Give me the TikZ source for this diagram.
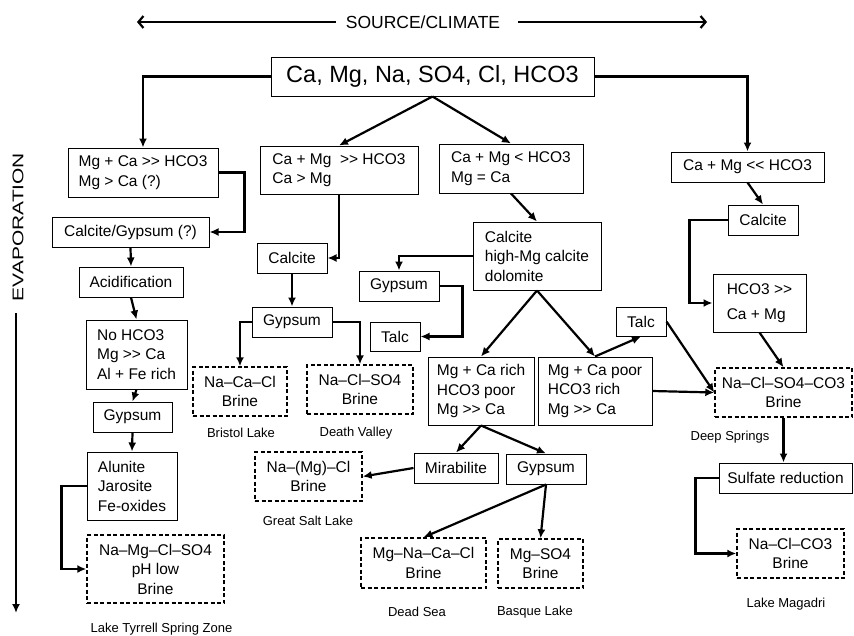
\documentclass[tikz,border=0pt]{standalone}
\usepackage{fontspec}
\setmainfont{Liberation Sans}
\newfontfamily\widefont[FakeStretch=1.35]{Liberation Sans}
\usetikzlibrary{arrows.meta}

\begin{document}
\begin{tikzpicture}
    [
      x=1pt, y=-1pt,
      every node/.style = {inner sep=4pt, font=\fontsize{15.5}{19.5}\selectfont},
      box/.style = {draw, line width=1pt, align=center},
      lbox/.style = {draw, line width=1pt, align=left},
      brine/.style = {draw, line width=1.4pt, dash pattern=on 4pt off 2.5pt, align=center},
      lbl/.style = {font=\fontsize{13}{15}\selectfont},
      wh/.style 2 args = {minimum width=#1pt, minimum height=#2pt},
      flow/.style = {line width=2.2pt, -{Latex[length=9pt,width=8pt]}},
      top arrow/.style = {line width=2.2pt, -{Straight Barb[length=5pt,width=12pt]}}
    ]
    \useasboundingbox (0,0) rectangle (854,635);

    % header and side arrow
    \node[font=\fontsize{17.5}{20}\selectfont, inner xsep=10pt] (source) at (423,22) {SOURCE/CLIMATE};
    \coordinate (srcL) at (137,22);
    \coordinate (srcR) at (707,22);
    \draw[top arrow] (source.west) -- (srcL);
    \draw[top arrow] ([xshift=8pt]source.east) -- (srcR);

    \node[rotate=90, font=\widefont\fontsize{15.5}{18}\selectfont] (evap) at (18,227) {EVAPORATION};
    \coordinate (evapTop) at (16,313);
    \coordinate (evapEnd) at (16,613);
    \draw[flow] (evapTop) -- (evapEnd);

    \node[box, wh={323}{39}, font=\fontsize{23.5}{26}\selectfont] (ions) at (432.5,76.5) {Ca, Mg, Na, SO4, Cl, HCO3};

    % left branch
    \node[lbox, wh={150}{49}] (mgca) at (143,172.5) {Mg + Ca >{}> HCO3\\Mg > Ca (?)};
    \node[box, wh={157}{30}] (calgyp) at (130.5,232) {Calcite/Gypsum (?)};
    \node[box, wh={104}{30}] (acid) at (131,282) {Acidification};
    \node[lbox, wh={101}{69}] (nohco) at (136.5,354.5) {No HCO3\\Mg >{}> Ca\\Al + Fe rich};
    \node[box, wh={79}{30}] (gypL) at (132.5,417) {Gypsum};
    \node[lbox, wh={90}{68}] (alun) at (132,486) {Alunite\\Jarosite\\Fe-oxides};
    \node[brine, wh={137}{68}] (tyrrell) at (155.5,569) {Na–Mg–Cl–SO4\\pH low\\Brine};
    \node[lbl] (tyrrellname) at (161.5,629) {Lake Tyrrell Spring Zone};

    % middle left branch
    \node[lbox, wh={158}{48}] (camgA) at (339,170) {Ca + Mg\ \ >{}> HCO3\\Ca > Mg};
    \node[box, wh={70}{30}] (calcM) at (292,258) {Calcite};
    \node[box, wh={80}{30}] (gypM) at (292,322) {Gypsum};
    \node[brine, wh={94}{49}] (bristol) at (240,391.5) {Na–Ca–Cl\\Brine};
    \node[lbl] (bristolname) at (241,433) {Bristol Lake};
    \node[brine, wh={106}{49}] (death) at (360,389.5) {Na–Cl–SO4\\Brine};
    \node[lbl] (deathname) at (356,433) {Death Valley};

    % middle right branch
    \node[lbox, wh={144}{49}] (camgB) at (511,168.5) {Ca + Mg < HCO3\\Mg = Ca};
    \node[lbox, wh={128}{68}] (dolo) at (537,256) {Calcite\\high-Mg calcite\\dolomite};
    \node[box, wh={80}{30}] (gypC) at (399,286) {Gypsum};
    \node[box, wh={50}{29}] (talcC) at (395,336.5) {Talc};
    \node[lbox, wh={106}{68}] (rich) at (481,391) {Mg + Ca rich\\HCO3 poor\\Mg >{}> Ca};
    \node[lbox, wh={114}{68}] (poor) at (595,391) {Mg + Ca poor\\HCO3 rich\\Mg >{}> Ca};
    \node[box, wh={50}{29}] (talcR) at (641,321.5) {Talc};
    \node[box, wh={84}{30}] (mira) at (456,468) {Mirabilite};
    \node[box, wh={80}{30}] (gypB) at (546,469) {Gypsum};
    \node[brine, wh={107}{49}] (salt) at (308.5,476.5) {Na–(Mg)–Cl\\Brine};
    \node[lbl] (saltname) at (308,521) {Great Salt Lake};
    \node[brine, wh={125}{50}] (deadsea) at (423.5,563) {Mg–Na–Ca–Cl\\Brine};
    \node[lbl] (deadseaname) at (417,612) {Dead Sea};
    \node[brine, wh={85}{49}] (basque) at (540.5,563.5) {Mg–SO4\\Brine};
    \node[lbl] (basquename) at (535,612) {Basque Lake};

    % right branch
    \node[box, wh={153}{30}] (camgC) at (747.5,167) {Ca + Mg <{}< HCO3};
    \node[box, wh={70}{30}] (calcR) at (763,220) {Calcite};
    \node[lbox, wh={93}{58}] (hco) at (759.5,303) {HCO3 >{}>\\[5pt]Ca + Mg};
    \node[brine, wh={137}{49}] (deep) at (783.5,392.5) {Na–Cl–SO4–CO3\\Brine};
    \node[lbl] (deepname) at (730,437) {Deep Springs};
    \node[box, wh={133}{30}] (sulf) at (785.5,478) {Sulfate reduction};
    \node[brine, wh={107}{49}] (magadi) at (790.5,553.5) {Na–Cl–CO3\\Brine};
    \node[lbl] (magadiname) at (786,604) {Lake Magadri};

    % connectors
    \draw[flow] (ions.west) -| (mgca.north);
    \draw[flow] (ions.east) -| (camgC.north);
    \draw[flow] (ions.south) -- (camgA.north);
    \draw[flow] (ions.south) -- (camgB.north);

    \draw[flow] (mgca.east) -- ++(26,0) |- (calgyp.east);
    \draw[flow] (calgyp.south) -- (acid.north);
    \draw[flow] (acid.south) -- (nohco.north);
    \draw[flow] (nohco.south) -- (gypL.north);
    \draw[flow] (gypL.south) -- (alun.north);
    \draw[flow] (alun.west) -- ++(-25,0) |- (tyrrell.west);

    \draw[flow] (camgA.south) |- (calcM.east);
    \draw[flow] (calcM.south) -- (gypM.north);
    \draw[flow] (gypM.west) -| (bristol.north);
    \draw[flow] (gypM.east) -| (death.north);

    \draw[flow] (camgB.south) -- (dolo.north);
    \draw[flow] (dolo.west) -| (gypC.north);
    \draw[flow] (gypC.east) -- ++(23,0) |- (talcC.east);
    \draw[flow] (dolo.south) -- (rich.north);
    \draw[flow] (dolo.south) -- (poor.north);
    \draw[flow] (poor.north) -- (talcR.south);
    \draw[flow] (talcR.east) -- (deep.west);
    \draw[flow] (poor.east) -- (deep.west);
    \draw[flow] (rich.south) -- (mira.north);
    \draw[flow] (rich.south) -- (gypB.north);
    \draw[flow] (mira.west) -- (salt.east);
    \draw[flow] (gypB.south) -- (deadsea.north);
    \draw[flow] (gypB.south) -- (basque.north);

    \draw[flow] (camgC.south) -- (calcR.north);
    \draw[flow] (calcR.west) -- ++(-38,0) |- (hco.west);
    \draw[flow] (hco.south) -- (deep.north);
    \draw[flow] (deep.south) -- (deep.south |- sulf.north);
    \draw[flow] (sulf.west) -- ++(-23,0) |- (magadi.west);
  \end{tikzpicture}
\end{document}
